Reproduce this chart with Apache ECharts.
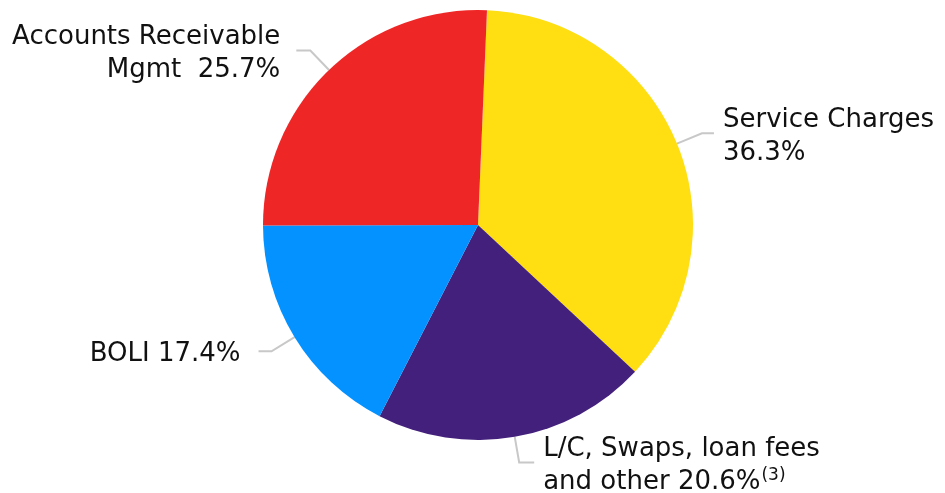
<!DOCTYPE html>
<html>
<head>
<meta charset="utf-8">
<script src="https://cdn.jsdelivr.net/npm/echarts@6/dist/echarts.min.js"></script>
<style>
  html, body { margin: 0; padding: 0; background: #fff; }
  #chart { width: 945px; height: 493px; }
</style>
</head>
<body>
<div id="chart"></div>
<script>
// Fee income mix by source (percent of total)
const categories = [
  'Service Charges',
  'L/C, Swaps, loan fees\nand other',
  'BOLI',
  'Accounts Receivable\nMgmt'
];
const shares = [36.3, 20.6, 17.4, 25.7];
const sliceColors = ['#FFDE12', '#43207B', '#0392FF', '#EE2726'];

// label text per slice; the footnote marker goes on the L/C slice
const labelFormats = [
  '{a|Service Charges}\n{a|{c}%}',
  '{a|L/C, Swaps, loan fees}\n{a|and other {c}%}{sup|(3)}',
  '{a|BOLI {c}%}',
  '{a|Accounts Receivable}\n{a|Mgmt  {c}%}'
];
const labelAlign = ['left', 'left', 'right', 'right'];
const labelGap = [9, 9, 18, 16];
const lineLengths = [[27, 12], [26, 15], [27, 13], [27, 14]];

const chart = echarts.init(document.getElementById('chart'), null, { renderer: 'canvas' });

const data = categories.map((name, i) => ({
  name,
  value: shares[i],
  itemStyle: { color: sliceColors[i] },
  label: {
    formatter: labelFormats[i],
    align: labelAlign[i],
    distanceToLabelLine: labelGap[i]
  },
  labelLine: { length: lineLengths[i][0], length2: lineLengths[i][1] }
}));

chart.setOption({
  animation: false,
  backgroundColor: '#ffffff',
  series: [{
    type: 'pie',
    center: [478, 225],
    radius: [0, 215],
    startAngle: 87.6,
    clockwise: true,
    avoidLabelOverlap: false,
    itemStyle: { borderWidth: 0 },
    label: {
      show: true,
      color: '#111',
      fontFamily: 'DejaVu Sans',
      fontSize: 26,
      lineHeight: 33,
      padding: [7, 0, 0, 0],
      rich: {
        a: { fontFamily: 'DejaVu Sans', fontSize: 26, lineHeight: 33, color: '#111' },
        sup: { fontFamily: 'DejaVu Sans', fontSize: 17, color: '#111', padding: [0, 0, 14, 1] }
      }
    },
    labelLine: {
      show: true,
      lineStyle: { color: '#C8C8C8', width: 2 }
    },
    data
  }]
});
</script>
</body>
</html>
